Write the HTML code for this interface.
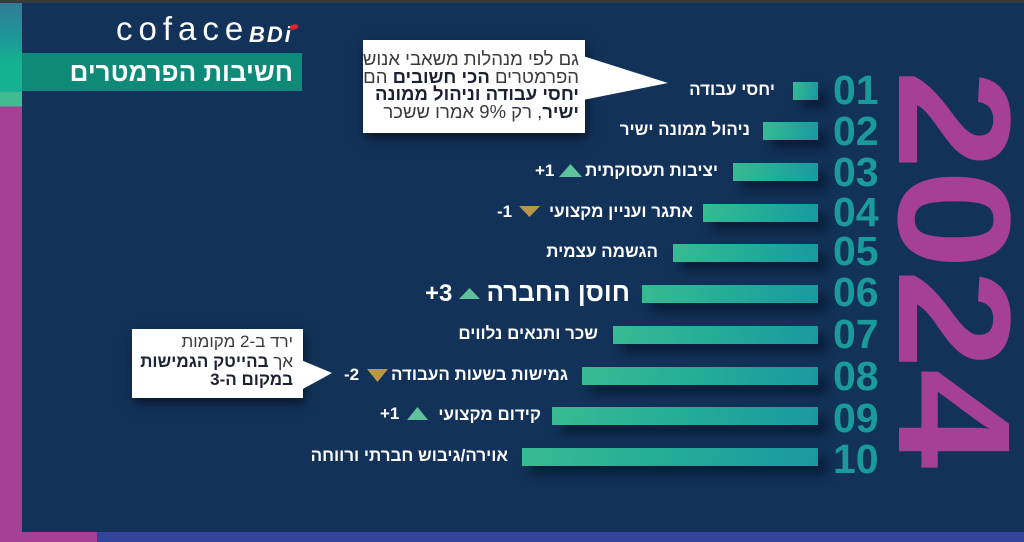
<!DOCTYPE html>
<html><head><meta charset="utf-8">
<style>
body{margin:0;width:1024px;height:542px;overflow:hidden;background:#123259;}
#c{position:relative;width:1024px;height:542px;overflow:hidden;background:#123259;font-family:"Liberation Sans",sans-serif;}
.a{position:absolute}
.bar{position:absolute;height:18px;background:linear-gradient(100deg,#38bb92 0%,#26ad97 45%,#1a98a0 100%);box-shadow:9px 9px 10px rgba(4,16,36,.6);}
.num{position:absolute;left:833px;font-weight:bold;font-size:41px;line-height:41px;color:#1b9a9c;white-space:nowrap}
.lbl{position:absolute;direction:rtl;white-space:nowrap;color:#fff;font-weight:bold;font-size:17px;line-height:20px;text-align:right}
.chg{position:absolute;direction:ltr;unicode-bidi:isolate;white-space:nowrap;color:#fff;font-weight:bold;font-size:17px;line-height:20px}
.box{position:absolute;background:#fff;box-shadow:2px 5px 10px rgba(0,0,0,.55)}
.ct{position:absolute;direction:rtl;white-space:nowrap;color:#3a3a3a;font-size:17px;line-height:20px;text-align:right}
.ct1{font-size:18.5px}
.ct b{color:#1c2233}
</style></head>
<body><div id="c">
<!-- top strip -->
<div class="a" style="left:0;top:0;width:1024px;height:3px;background:#3a3a3c"></div>
<!-- left band -->
<div class="a" style="left:0;top:3px;width:22px;height:539px;background:linear-gradient(to bottom,#2f7b97 0px,#1b9c98 40px,#16b190 58px,#16b190 88px,#40bb92 90px,#40bb92 103px,#a63f96 104px,#a63f96 100%)"></div>
<!-- bottom strip -->
<div class="a" style="left:0;top:532px;width:97px;height:10px;background:#a63f96"></div>
<div class="a" style="left:97px;top:532px;width:927px;height:10px;background:#34449a"></div>

<!-- logo -->
<div class="a" style="left:116px;top:12px;font-size:33px;line-height:33px;color:#fff;letter-spacing:6px;white-space:nowrap">coface</div>
<div class="a" style="left:249px;top:24px;font-size:22px;line-height:22px;color:#fff;font-weight:bold;font-style:italic;letter-spacing:2px;white-space:nowrap">BDi</div>

<!-- title -->
<div class="a" style="left:22px;top:53px;width:280px;height:38px;background:#0e8a78"></div>
<div class="a" style="left:22px;top:53px;width:271px;height:38px;direction:rtl;text-align:right;color:#fff;font-weight:bold;font-size:26px;line-height:38px;white-space:nowrap">חשיבות הפרמטרים</div>

<!-- bars -->
<div class="bar" style="left:793px;top:82px;width:25px"></div>
<div class="bar" style="left:763px;top:122px;width:55px"></div>
<div class="bar" style="left:733px;top:163px;width:85px"></div>
<div class="bar" style="left:703px;top:204px;width:115px"></div>
<div class="bar" style="left:673px;top:244px;width:145px"></div>
<div class="bar" style="left:642px;top:285px;width:176px"></div>
<div class="bar" style="left:613px;top:326px;width:205px"></div>
<div class="bar" style="left:582px;top:367px;width:236px"></div>
<div class="bar" style="left:552px;top:407px;width:266px"></div>
<div class="bar" style="left:522px;top:448px;width:296px"></div>

<!-- numbers -->
<div class="num" style="top:70px">01</div>
<div class="num" style="top:111px">02</div>
<div class="num" style="top:152px">03</div>
<div class="num" style="top:192px">04</div>
<div class="num" style="top:231px">05</div>
<div class="num" style="top:272px">06</div>
<div class="num" style="top:314px">07</div>
<div class="num" style="top:356px">08</div>
<div class="num" style="top:398px">09</div>
<div class="num" style="top:439px">10</div>

<!-- labels -->
<div class="lbl" style="right:249px;top:80px">יחסי עבודה</div>
<div class="lbl" style="right:274px;top:120px">ניהול ממונה ישיר</div>
<div class="lbl" style="right:306px;top:161px">יציבות תעסוקתית</div>
<div class="lbl" style="right:331px;top:202px">אתגר ועניין מקצועי</div>
<div class="lbl" style="right:366px;top:242px">הגשמה עצמית</div>
<div class="lbl" style="right:394px;top:277px;font-size:26px;line-height:30px">חוסן החברה</div>
<div class="lbl" style="right:426px;top:324px">שכר ותנאים נלווים</div>
<div class="lbl" style="right:456px;top:365px">גמישות בשעות העבודה</div>
<div class="lbl" style="right:483px;top:405px">קידום מקצועי</div>
<div class="lbl" style="right:516px;top:446px">אוירה/גיבוש חברתי ורווחה</div>

<!-- change values -->
<div class="chg" style="left:535px;top:161px">+1</div>
<div class="chg" style="left:497px;top:202px">-1</div>
<div class="chg" style="left:425px;top:280px;font-size:24px;line-height:28px">+3</div>
<div class="chg" style="left:344px;top:365px">-2</div>
<div class="chg" style="left:380px;top:404px">+1</div>

<!-- callout boxes -->
<div class="box" style="left:363px;top:40px;width:222px;height:93px"></div>
<div class="box" style="left:132px;top:329px;width:171px;height:69px"></div>

<svg class="a" style="left:0;top:0" width="1024" height="542" viewBox="0 0 1024 542">
  <!-- pointers -->
  <polygon points="583,56 668,83 583,100" fill="#fff"/>
  <polygon points="301,360 332,373 301,390" fill="#fff"/>
  <!-- triangles -->
  <polygon points="559,177 570.5,164 582,177" fill="#5ec39a"/>
  <polygon points="519,206 540,206 529.5,217" fill="#b9964a"/>
  <polygon points="459,299 469.5,288 480,299" fill="#5ec39a"/>
  <polygon points="367,369 388,369 377.5,382" fill="#b9964a"/>
  <polygon points="407,420 417.5,407 428,420" fill="#5ec39a"/>
  <!-- logo dot -->
  <ellipse cx="294" cy="27" rx="4.5" ry="2.6" transform="rotate(-15 294 27)" fill="#e4232b"/>
  <!-- 2024 -->
  <text transform="translate(899,70) rotate(90) scale(1.12,1)" font-family="Liberation Sans" font-weight="bold" font-size="160" fill="#a63f96">2024</text>
</svg>

<!-- callout texts -->
<div class="ct ct1" style="right:445px;top:49px">גם לפי מנהלות משאבי אנוש</div>
<div class="ct ct1" style="right:445px;top:67px">הפרמטרים <b>הכי חשובים</b> הם</div>
<div class="ct ct1" style="right:445px;top:84px"><b>יחסי עבודה וניהול ממונה</b></div>
<div class="ct ct1" style="right:445px;top:102px"><b>ישיר</b>, רק 9% אמרו ששכר</div>

<div class="ct" style="right:731px;top:332px">ירד ב-2 מקומות</div>
<div class="ct" style="right:731px;top:352px">אך <b>בהייטק הגמישות</b></div>
<div class="ct" style="right:731px;top:370px"><b>במקום ה-3</b></div>
</div></body></html>
